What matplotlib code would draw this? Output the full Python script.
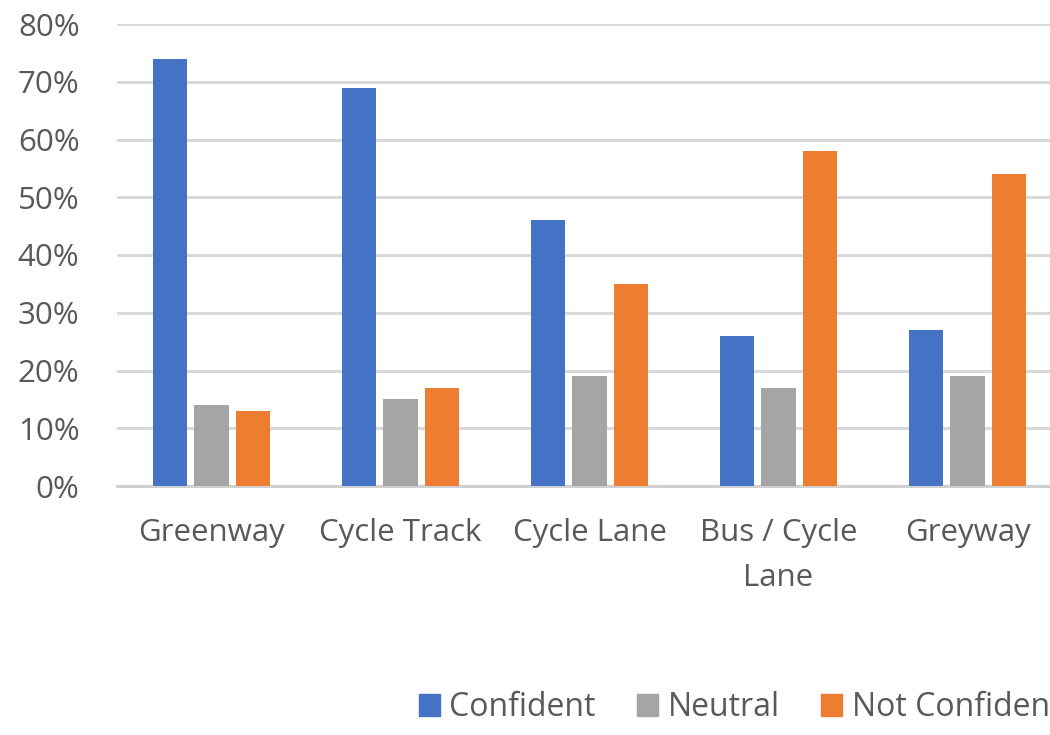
import numpy as np
import matplotlib.pyplot as plt
from matplotlib.patches import Patch

categories = ["Greenway", "Cycle Track", "Cycle Lane", "Bus / Cycle\nLane", "Greyway"]
confident = [74, 69, 46, 26, 27]
neutral = [14, 15, 19, 17, 19]
not_confident = [13, 17, 35, 58, 54]

series = ["Confident", "Neutral", "Not Confident"]
colors = ["#4472C4", "#A5A5A5", "#ED7D31"]

plt.rcParams['font.family'] = ['Open Sans', 'DejaVu Sans']

fig = plt.figure(figsize=(10.5, 7.35), dpi=100)
# axes run off the right edge, like the cropped original
ax = fig.add_axes([117 / 1050, 249 / 735, 945 / 1050, 462 / 735])

x = np.arange(len(categories))
step = 0.217
width = 0.18
for i, (vals, col) in enumerate(zip([confident, neutral, not_confident], colors)):
    ax.bar(x + (i - 1) * step, vals, width, color=col, zorder=3)

ax.set_xlim(-0.5, 4.5)
ax.set_ylim(0, 80)
ax.set_yticks(np.arange(0, 81, 10))
ax.set_yticklabels([f"{v}%" for v in range(0, 81, 10)])
ax.set_xticks(x)
ax.set_xticklabels(categories, linespacing=1.65)

ax.grid(axis='y', color='#d9d9d9', linewidth=2.2, zorder=0)
for s in ['top', 'right', 'left']:
    ax.spines[s].set_visible(False)
ax.spines['bottom'].set_color('#d0d0d0')
ax.spines['bottom'].set_linewidth(2.2)
ax.tick_params(axis='both', length=0, labelsize=22.5, colors='#595959')
ax.tick_params(axis='y', pad=27)
ax.tick_params(axis='x', pad=23)

handles = [Patch(color=c) for c in colors]
fig.legend(handles, series, loc='center left', bbox_to_anchor=(0.399, 0.037),
           ncol=3, frameon=False, fontsize=23, labelcolor='#595959',
           handlelength=0.65, handleheight=0.65, handletextpad=0.3,
           columnspacing=1.3, borderpad=0, borderaxespad=0)

fig.savefig('out.png', dpi=100)
